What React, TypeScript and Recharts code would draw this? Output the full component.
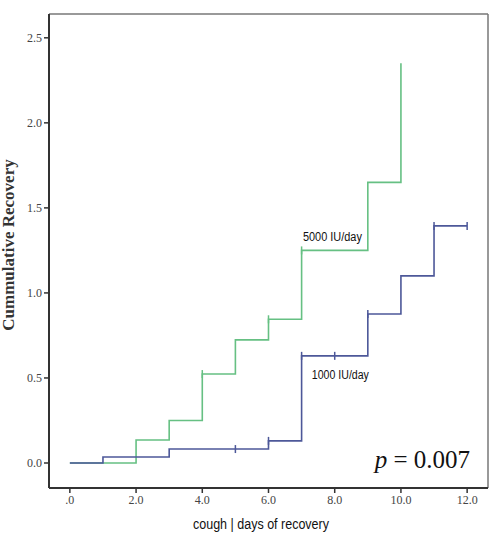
import { LineChart, Line, XAxis, YAxis, ReferenceDot, ReferenceLine, Label } from 'recharts';

// 5000 IU/day group
const highDays = [0, 2, 3, 4, 5, 6, 7, 9, 10];
const highRecovery = [0, 0.135, 0.25, 0.523, 0.724, 0.845, 1.25, 1.65, 2.35];
const highCensored = [4, 6, 7];

// 1000 IU/day group
const lowDays = [0, 1, 3, 5, 6, 7, 8, 9, 10, 11, 12];
const lowRecovery = [0, 0.035, 0.082, 0.082, 0.13, 0.63, 0.63, 0.876, 1.1, 1.394, 1.394];
const lowCensored = [5, 6, 7, 8, 9, 11, 12];

const xTicks = [0, 2, 4, 6, 8, 10, 12];
const yTicks = [0, 0.5, 1, 1.5, 2, 2.5];

const X_DOMAIN: [number, number] = [-0.63, 12.63];
const Y_DOMAIN: [number, number] = [-0.147, 2.64];

const GREEN = '#66c083';
const BLUE = '#4d5899';
const SERIF = '"Liberation Serif", "DejaVu Serif", serif';
const SANS = '"Liberation Sans", sans-serif';

const highData = highDays.map((day, i) => ({ day, value: highRecovery[i] }));
const lowData = lowDays.map((day, i) => ({ day, value: lowRecovery[i] }));

function censorDot(censored: number[], color: string) {
  return (props: any) => {
    const { cx, cy, payload, index } = props;
    if (!censored.includes(payload.day)) return <g key={`d${index}`} />;
    return <line key={`d${index}`} x1={cx} x2={cx} y1={cy - 4} y2={cy + 4} stroke={color} strokeWidth={1.5} />;
  };
}

function NoteLabel(props: any) {
  const { viewBox, value, size, width, italicP } = props;
  if (italicP) {
    return (
      <text x={viewBox.x} y={viewBox.y + 8} fontFamily={SERIF} fontSize={size} fill="#111">
        <tspan fontStyle="italic">p</tspan>
        <tspan> = 0.007</tspan>
      </text>
    );
  }
  return (
    <text
      x={viewBox.x}
      y={viewBox.y + 4}
      fontFamily={SANS}
      fontSize={size}
      fill="#111"
      textLength={width}
      lengthAdjust="spacingAndGlyphs"
    >
      {value}
    </text>
  );
}

const fmtX = (v: number) => (v === 0 ? '.0' : v.toFixed(1));

export default function App() {
  return (
    <div style={{ position: 'absolute', left: 0, top: 0, width: 490, height: 544, background: '#fff' }}>
      <LineChart width={490} height={544} margin={{ top: 14, right: 2, left: 0, bottom: 0 }}>
        <XAxis
          dataKey="day"
          type="number"
          domain={X_DOMAIN}
          ticks={xTicks}
          tickFormatter={fmtX}
          height={56}
          tickSize={5}
          axisLine={{ stroke: '#333', strokeWidth: 2 }}
          tickLine={{ stroke: '#333', strokeWidth: 1.5 }}
          tick={{ fontSize: 12, fill: '#444', fontFamily: SERIF }}
          allowDataOverflow
        >
          <Label
            content={(p: any) => (
              <text
                x={193}
                y={p.viewBox.y + 41}
                fontFamily={SANS}
                fontSize={14}
                fill="#111"
                textLength={136}
                lengthAdjust="spacingAndGlyphs"
              >
                cough  | days of recovery
              </text>
            )}
          />
        </XAxis>
        <YAxis
          type="number"
          domain={Y_DOMAIN}
          ticks={yTicks}
          tickFormatter={(v: number) => v.toFixed(1)}
          width={49}
          tickSize={5}
          axisLine={{ stroke: '#333', strokeWidth: 2 }}
          tickLine={{ stroke: '#333', strokeWidth: 1.5 }}
          tick={{ fontSize: 12, fill: '#444', fontFamily: SERIF }}
          allowDataOverflow
        >
          <Label
            content={(p: any) => (
              <text
                transform={`translate(${p.viewBox.x + 14}, 245) rotate(-90)`}
                textAnchor="middle"
                fontFamily={SERIF}
                fontWeight="bold"
                fontSize={17}
                fill="#333"
              >
                Cummulative Recovery
              </text>
            )}
          />
        </YAxis>
        <ReferenceLine y={Y_DOMAIN[1]} stroke="#777" strokeWidth={1.5} />
        <ReferenceLine x={X_DOMAIN[1]} stroke="#777" strokeWidth={1.5} />
        <Line
          data={highData}
          dataKey="value"
          type="stepAfter"
          stroke={GREEN}
          strokeWidth={1.6}
          dot={censorDot(highCensored, GREEN)}
          activeDot={false}
          isAnimationActive={false}
        />
        <Line
          data={lowData}
          dataKey="value"
          type="stepAfter"
          stroke={BLUE}
          strokeWidth={1.6}
          dot={censorDot(lowCensored, BLUE)}
          activeDot={false}
          isAnimationActive={false}
        />
        <ReferenceDot x={7.04} y={1.33} r={0} fill="none" stroke="none" label={<NoteLabel value="5000 IU/day" size={12} width={59} />} />
        <ReferenceDot x={7.31} y={0.52} r={0} fill="none" stroke="none" label={<NoteLabel value="1000 IU/day" size={12} width={57} />} />
        <ReferenceDot x={9.21} y={0.02} r={0} fill="none" stroke="none" label={<NoteLabel italicP size={25} />} />
      </LineChart>
    </div>
  );
}
